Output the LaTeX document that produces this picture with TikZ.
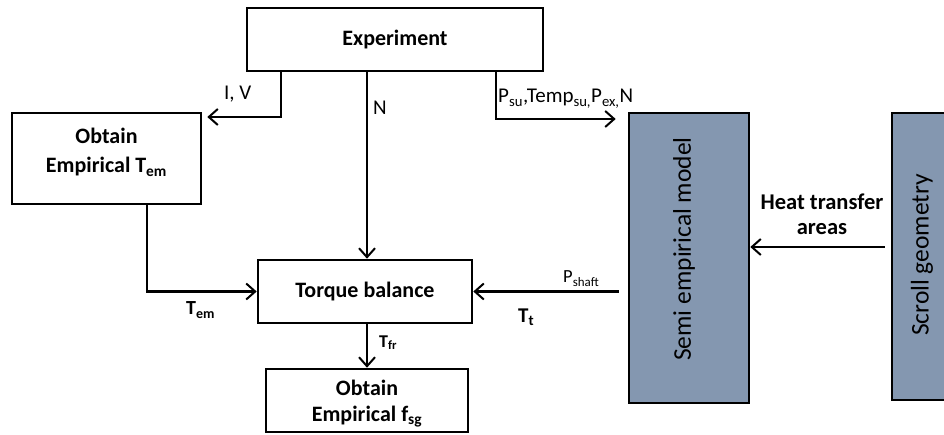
\documentclass[tikz,border=0pt]{standalone}
\usepackage{fontspec}
\setmainfont{Carlito}
\usetikzlibrary{arrows.meta}
\definecolor{slate}{RGB}{132,151,176}
\newcommand{\fs}[1]{\fontsize{#1}{#1}\selectfont}
\begin{document}
\begin{tikzpicture}[x=1pt,y=-1pt,
  box/.style={draw=black, line width=2.6pt, fill=white, inner sep=0pt, align=center},
  gbox/.style={draw=black, line width=2.6pt, fill=slate, inner sep=0pt},
  arr/.style={line width=2.4pt, -{Straight Barb[length=9pt,width=16pt,line width=2pt]}},
  lab/.style={inner sep=0pt, font=\fs{21}}]
\useasboundingbox (0,0) rectangle (944,435);
\clip (0,0) rectangle (944,435);
% boxes
\node[box, minimum width=296pt, minimum height=63pt, font=\fs{22}\bfseries] (exp) at (395,39.5) {Experiment};
\node[box, minimum width=189pt, minimum height=91pt] (obt) at (106.5,158.5) {};
\node[font=\fontsize{22}{29}\selectfont\bfseries, align=center, inner sep=0pt] (obtt) at ([yshift=6pt]obt.center) {Obtain\\Empirical T\textsubscript{em}};
\node[box, minimum width=214pt, minimum height=63pt, font=\fs{22}\bfseries] (tor) at (365,291.5) {Torque balance};
\node[box, minimum width=202pt, minimum height=63pt] (fsg) at (367,400.5) {};
\node[font=\fontsize{22}{26}\selectfont\bfseries, align=center, inner sep=0pt] (fsgt) at ([yshift=-3pt]fsg.center) {Obtain\\Empirical f\textsubscript{sg}};
\node[gbox, minimum width=120pt, minimum height=290pt] (semi) at (689,258) {};
\node[rotate=90, font=\fs{25.5}, inner sep=0pt] (semit) at (684,249) {Semi empirical model};
\node[gbox, minimum width=60pt, minimum height=287pt] (scroll) at (922,256.5) {};
\node[rotate=90, font=\fs{25.5}, inner sep=0pt] (scrollt) at (922,255) {Scroll geometry};
% helper coordinates
\coordinate (xiv) at (281,0);
\coordinate (yiv) at (0,117);
\coordinate (xn) at (367,0);
\coordinate (xt) at (147,0);
\coordinate (yh) at (0,247);
\coordinate (xp) at (496,0);
\coordinate (yp) at (0,119);
% connectors
\draw[arr] (exp.south -| xiv) -- (xiv |- yiv) -- ([xshift=5pt]obt.east |- yiv);
\draw[arr] (exp.south -| xn) -- (tor.north -| xn);
\draw[arr] (obt.south -| xt) |- (tor.west);
\draw[arr] (tor.south -| fsg.north) -- (fsg.north);
\draw[arr] ([xshift=-9pt]semi.west |- tor.east) -- (tor.east);
\draw[arr] ([xshift=-6pt]scroll.west |- yh) -- (semi.east |- yh);
\draw[arr] (exp.south -| xp) -- (xp |- yp) -- ([xshift=-12pt]semi.west |- yp);
% labels
\node[lab, anchor=base west] (liv) at (224,100) {I, V};
\node[lab, anchor=base west] (ln) at (373,115) {N};
\node[lab, anchor=base west] (lp) at (498,103) {P\textsubscript{su},Temp\textsubscript{su,}P\textsubscript{ex,}N};
\node[lab, font=\fs{20}\bfseries, anchor=base west] (ltem) at (186,315) {T\textsubscript{em}};
\node[lab, font=\fs{18}\bfseries, anchor=base west] (ltfr) at (379,347) {T\textsubscript{fr}};
\node[lab, font=\fs{18.5}, anchor=base west] (lps) at (563,283) {P\textsubscript{shaft}};
\node[lab, font=\fs{21}\bfseries, anchor=base west] (ltt) at (518,322) {T\textsubscript{t}};
\node[font=\fontsize{22.5}{25}\selectfont\bfseries, align=center, inner sep=0pt] (lheat) at (822,214) {Heat transfer\\areas};
\end{tikzpicture}
\end{document}
